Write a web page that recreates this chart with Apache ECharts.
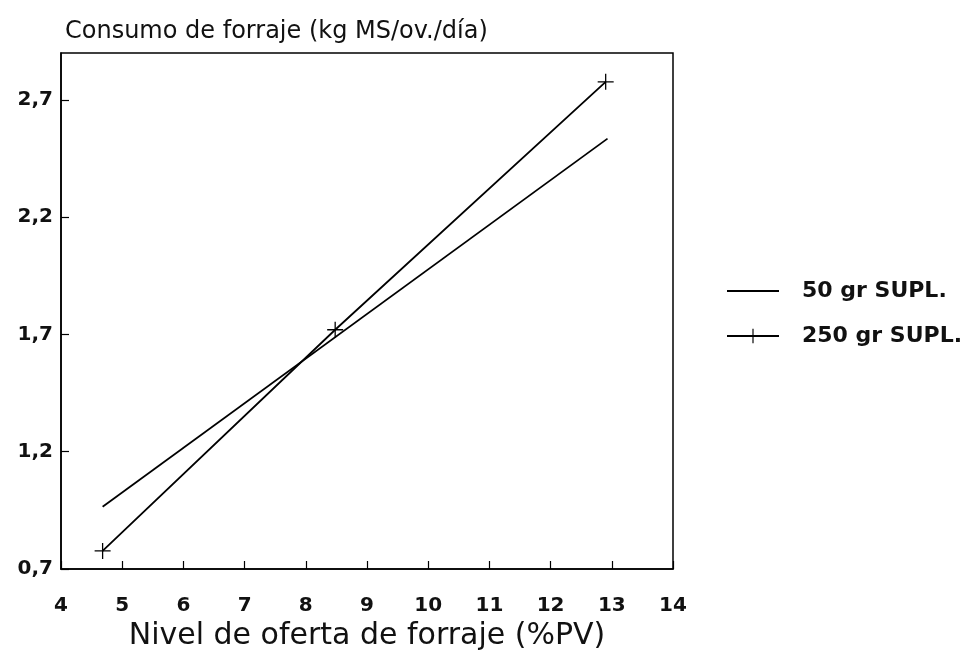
<!DOCTYPE html>
<html>
<head>
<meta charset="utf-8">
<script src="https://cdn.jsdelivr.net/npm/echarts@6/dist/echarts.min.js"></script>
<style>html,body{margin:0;padding:0;background:#fff}#c{width:979px;height:653px}</style>
</head>
<body>
<div id="c"></div>
<script>
var titleText = 'Consumo de forraje (kg MS/ov./día)';
var xAxisName = 'Nivel de oferta de forraje (%PV)';
var seriesNames = ['50 gr SUPL.', '250 gr SUPL.'];
var xTicks = [4, 5, 6, 7, 8, 9, 10, 11, 12, 13, 14];
var yTicks = [0.7, 1.2, 1.7, 2.2, 2.7];
var supl50 = [[4.68, 0.965], [12.93, 2.535]];
var supl250 = [[4.68, 0.777], [8.48, 1.72], [12.9, 2.777]];

var plus = 'path://M0,4.6L10,4.6L10,5.4L0,5.4Z M4.6,0L5.4,0L5.4,10L4.6,10Z';
var fontFam = '"DejaVu Sans", "Liberation Sans", Arial, sans-serif';
var chart = echarts.init(document.getElementById('c'));
chart.setOption({
  animation: false,
  backgroundColor: '#fff',
  title: {
    text: titleText, left: 60, top: 15,
    textStyle: {fontFamily: fontFam, fontSize: 24, fontWeight: 'normal', color: '#111'}
  },
  legend: {
    orient: 'vertical', left: 721, top: 274, itemGap: 21,
    itemWidth: 52, itemHeight: 18,
    data: [{name: seriesNames[0], itemStyle: {opacity: 0}}, {name: seriesNames[1]}],
    textStyle: {fontFamily: fontFam, fontSize: 22, lineHeight: 24, fontWeight: 'bold', color: '#111', padding: [0, 0, 0, 18]}
  },
  grid: {left: 61, right: 306, top: 53, bottom: 84, outerBoundsMode: 'none', containLabel: false,
    show: true, borderColor: '#000', borderWidth: 1.5, backgroundColor: 'transparent'},
  xAxis: {
    type: 'value', min: xTicks[0], max: xTicks[xTicks.length - 1], interval: 1,
    name: xAxisName, nameLocation: 'middle', nameGap: 45,
    nameTextStyle: {fontFamily: fontFam, fontSize: 30, color: '#111'},
    axisLine: {lineStyle: {color: '#000', width: 1.5}},
    axisTick: {inside: true, length: 8, lineStyle: {color: '#000', width: 1.2}},
    axisLabel: {margin: 27, fontFamily: fontFam, fontSize: 20, fontWeight: 'bold', color: '#111'},
    splitLine: {show: false}
  },
  yAxis: {
    type: 'value', min: yTicks[0], max: 2.9, interval: 0.5,
    axisLine: {lineStyle: {color: '#000', width: 1.5}},
    axisTick: {inside: true, length: 8, lineStyle: {color: '#000', width: 1.2}},
    axisLabel: {margin: 8, fontFamily: fontFam, fontSize: 20, fontWeight: 'bold', color: '#111', showMaxLabel: false,
      formatter: function (v) { return v.toFixed(1).replace('.', ','); }},
    splitLine: {show: false}
  },
  series: [
    {
      name: seriesNames[0], type: 'line', data: supl50, symbol: 'none',
      lineStyle: {color: '#000', width: 1.8}, itemStyle: {color: '#000'}
    },
    {
      name: seriesNames[1], type: 'line', data: supl250, symbol: plus, symbolSize: 16,
      lineStyle: {color: '#000', width: 1.8}, itemStyle: {color: '#000'}
    }
  ]
});
</script>
</body>
</html>
